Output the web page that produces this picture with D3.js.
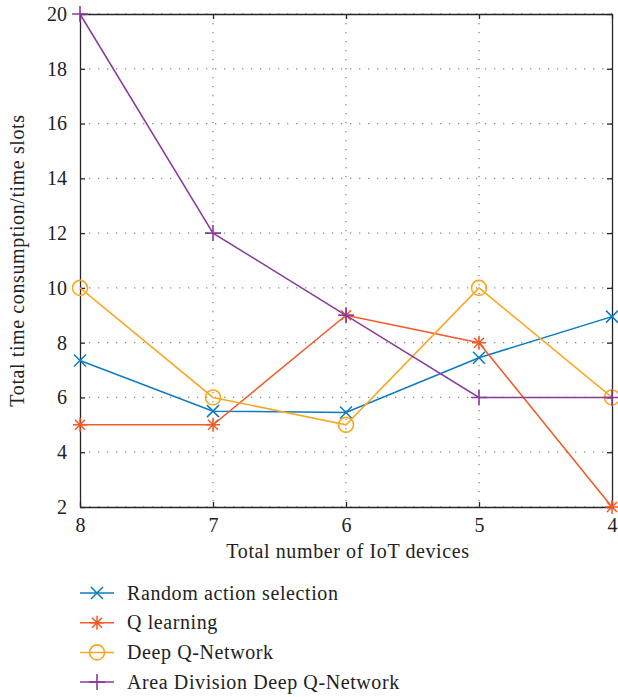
<!DOCTYPE html>
<html>
<head>
<meta charset="utf-8">
<script src="https://cdn.jsdelivr.net/npm/d3@7"></script>
<style>
  body { margin: 0; background: #fff; }
  svg { display: block; }
</style>
</head>
<body>
<svg width="618" height="697"></svg>
<script>
// devices on the x axis (reversed order, as in the figure)
const devices = [8, 7, 6, 5, 4];
const yTicks = [2, 4, 6, 8, 10, 12, 14, 16, 18, 20];

const randomAction = [7.35, 5.5, 5.45, 7.45, 8.95];
const qLearning = [5, 5, 9, 8, 2];
const deepQ = [10, 6, 5, 10, 6];
const areaDivision = [20, 12, 9, 6, 6];

const seriesNames = ["Random action selection", "Q learning", "Deep Q-Network", "Area Division Deep Q-Network"];
const seriesValues = [randomAction, qLearning, deepQ, areaDivision];
const colors = ["#0a7bc2", "#f15a29", "#f9a825", "#8a3a9c"];
const markers = ["x", "star", "circle", "plus"];

const serif = "'Liberation Serif', 'DejaVu Serif', serif";
const svg = d3.select("svg");
const plotLeft = 80, plotRight = 612, plotTop = 14, plotBottom = 507;

const x = d3.scalePoint().domain(devices).range([plotLeft, plotRight]);
const y = d3.scaleLinear().domain([2, 20]).range([plotBottom, plotTop]);

// grid
const grid = svg.append("g").attr("stroke", "#8a8a8a").attr("stroke-width", 1.3)
    .attr("stroke-dasharray", "1.3,7.7");
grid.selectAll("line.h").data(yTicks).join("line")
    .attr("x1", plotLeft).attr("x2", plotRight)
    .attr("y1", d => y(d)).attr("y2", d => y(d));
grid.selectAll("line.v").data(devices.slice(1, -1)).join("line")
    .attr("x1", d => x(d)).attr("x2", d => x(d))
    .attr("y1", plotTop).attr("y2", plotBottom);

// axes (ticks inward on all sides)
const tickLen = 5;
const axisColor = "#262626";
svg.append("g").attr("transform", `translate(0,${plotBottom})`)
    .call(d3.axisBottom(x).tickSizeInner(-tickLen).tickSizeOuter(0).tickPadding(11));
svg.append("g").attr("transform", `translate(0,${plotTop})`)
    .call(d3.axisTop(x).tickSizeInner(-tickLen).tickSizeOuter(0).tickFormat(""));
svg.append("g").attr("transform", `translate(${plotLeft},0)`)
    .call(d3.axisLeft(y).tickValues(yTicks).tickSizeInner(-tickLen).tickSizeOuter(0).tickPadding(13));
svg.append("g").attr("transform", `translate(${plotRight},0)`)
    .call(d3.axisRight(y).tickValues(yTicks).tickSizeInner(-tickLen).tickSizeOuter(0).tickFormat(""));

svg.selectAll(".domain").attr("stroke", axisColor).attr("stroke-width", 1.3);
svg.selectAll(".tick line").attr("stroke", axisColor).attr("stroke-width", 1.3);
svg.selectAll(".tick text")
    .style("font-family", serif).style("font-size", "20px").style("fill", "#222");

function drawMarker(g, type, color, cx, cy) {
  if (type === "x") {
    const s = 6;
    g.append("path").attr("d", `M${cx - s},${cy - s}L${cx + s},${cy + s}M${cx - s},${cy + s}L${cx + s},${cy - s}`)
      .attr("stroke", color).attr("stroke-width", 1.5).attr("fill", "none");
  } else if (type === "star") {
    const s = 7, d = 5;
    g.append("path").attr("d", `M${cx},${cy - s}L${cx},${cy + s}M${cx - s},${cy}L${cx + s},${cy}M${cx - d},${cy - d}L${cx + d},${cy + d}M${cx - d},${cy + d}L${cx + d},${cy - d}`)
      .attr("stroke", color).attr("stroke-width", 1.5).attr("fill", "none");
  } else if (type === "circle") {
    g.append("circle").attr("cx", cx).attr("cy", cy).attr("r", 7.5)
      .attr("stroke", color).attr("stroke-width", 1.6).attr("fill", "none");
  } else {
    const s = 8;
    g.append("path").attr("d", `M${cx},${cy - s}L${cx},${cy + s}M${cx - s},${cy}L${cx + s},${cy}`)
      .attr("stroke", color).attr("stroke-width", 1.6).attr("fill", "none");
  }
}

const line = d3.line().x((d, i) => x(devices[i])).y(d => y(d));

seriesValues.forEach((vals, k) => {
  const g = svg.append("g");
  g.append("path").datum(vals).attr("d", line)
    .attr("fill", "none").attr("stroke", colors[k]).attr("stroke-width", 1.5);
  vals.forEach((v, i) => drawMarker(g, markers[k], colors[k], x(devices[i]), y(v)));
});

function label(sel) {
  return sel.style("font-family", serif).style("font-size", "20px")
    .style("letter-spacing", "0.6px").style("fill", "#222");
}

// axis titles
label(svg.append("text")).attr("x", (plotLeft + plotRight) / 2 + 2).attr("y", 558)
  .attr("text-anchor", "middle").text("Total number of IoT devices");
label(svg.append("text")).attr("transform", `translate(24,${(plotTop + plotBottom) / 2}) rotate(-90)`)
  .attr("text-anchor", "middle").text("Total time consumption/time slots");

// legend
const legend = svg.append("g");
seriesNames.forEach((name, k) => {
  const ly = 593 + k * 29.7;
  legend.append("line").attr("x1", 80).attr("x2", 114).attr("y1", ly).attr("y2", ly)
    .attr("stroke", colors[k]).attr("stroke-width", 1.5);
  drawMarker(legend, markers[k], colors[k], 97, ly);
  label(legend.append("text")).attr("x", 127).attr("y", ly + 6.5).text(name);
});
</script>
</body>
</html>
